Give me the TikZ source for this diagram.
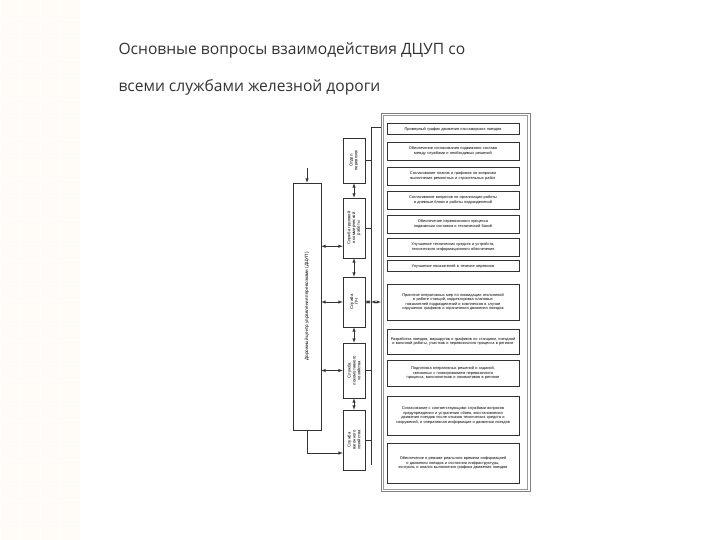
\documentclass[tikz,border=0pt]{standalone}
\usepackage{fontspec}
\setmainfont{Open Sans}
\newfontfamily\smallf{Liberation Sans}
\begin{document}
\begin{tikzpicture}[x=1pt,y=-1pt,
  rbox/.style={draw=black!80,line width=0.5pt,fill=white,align=center,font=\smallf\fontsize{3.9}{4.5}\selectfont,text width=130pt,inner sep=1pt},
  mbox/.style={draw=black!80,line width=0.5pt,fill=white,align=center,font=\smallf\fontsize{4.2}{4.8}\selectfont,inner sep=1pt},
  conn/.style={line width=0.5pt,black!80},
  arr/.style={conn,<->,>=latex}]
\useasboundingbox (0,0) rectangle (720,540);
\fill[white] (0,0) rectangle (720,540);
\fill[yellow!4!orange!3] (0,0) rectangle (80,540);
\foreach \i in {0,20,...,520} \draw[white,line width=1pt] (0,\i) -- (80,\i);
\foreach \i in {0,20,...,60} \draw[white,line width=1pt] (\i,0) -- (\i,540);
\node[anchor=west,font=\fontsize{15.6}{18}\selectfont,text=black!80] (t1) at (115,50) {Основные вопросы взаимодействия ДЦУП со};
\node[anchor=west,font=\fontsize{15.6}{18}\selectfont,text=black!80] (t2) at (115,87) {всеми службами железной дороги};
% frame
\node[draw=black!50,line width=0.6pt,minimum width=149pt,minimum height=378pt,anchor=north west] (frame) at (381,113) {};
\draw[black!40,line width=0.4pt] (383,115) rectangle (527,489);
% right boxes
\node[rbox,minimum height=11pt] (r1) at (453,129) {Примерный график движения пассажирских поездов};
\node[rbox,minimum height=18pt] (r2) at (453,151) {Обеспечение согласования подвижного состава между службами и необходимых решений};
\node[rbox,minimum height=18pt] (r3) at (453,176) {Согласование планов и графиков по вопросам выполнения ремонтных и строительных работ};
\node[rbox,minimum height=18pt] (r4) at (453,200) {Согласование вопросов по организации работы в дневные блоки и работы подразделений};
\node[rbox,minimum height=18pt] (r5) at (453,224) {Обеспечение перевозочного процесса подвижным составом и технической базой};
\node[rbox,minimum height=18pt] (r6) at (453,247) {Улучшение технических средств и устройств, технического информационного обеспечения};
\node[rbox,minimum height=11pt] (r7) at (453,266) {Улучшение показателей в течение перевозок};
\node[rbox,minimum height=36pt] (r8) at (453,302) {Принятие оперативных мер по ликвидации отклонений в работе станций, корректировка плановых показателей подразделений и комплексов в случае нарушения графиков и ограничения движения поездов};
\node[rbox,minimum height=25pt] (r9) at (453,341.5) {Разработка поездов, маршрутов и графиков по станциям, поездной и вагонной работы, участков и перевозочного процесса в регионе};
\node[rbox,minimum height=26pt] (r10) at (453,373) {Подготовка оперативных решений и заданий, связанных с планированием перевозочного процесса, вагонопотоков и локомотивов в регионе};
\node[rbox,minimum height=39pt] (r11) at (453,415.5) {Согласование с соответствующими службами вопросов предупреждения и устранения сбоев, восстановления движения поездов после отказов технических средств и сооружений, и оперативная информация о движении поездов};
\node[rbox,minimum height=40pt] (r12) at (453,463) {Обеспечение в режиме реального времени информацией о движении поездов и состоянии инфраструктуры, контроль и анализ выполнения графика движения поездов};
% middle boxes
\node[mbox,minimum width=22pt,minimum height=45pt] (m1) at (354,160.5) {};
\node[rotate=90,font=\smallf\fontsize{4.2}{4.8}\selectfont,align=center] at (m1) {Отдел\\перевозок};
\node[mbox,minimum width=22pt,minimum height=60pt] (m2) at (354,228) {};
\node[rotate=90,font=\smallf\fontsize{4.2}{4.8}\selectfont,align=center] at (m2) {Служба грузовой\\и коммерческой\\работы};
\node[mbox,minimum width=22pt,minimum height=50pt] (m3) at (354,302) {};
\node[rotate=90,font=\smallf\fontsize{4.2}{4.8}\selectfont,align=center] at (m3) {Служба\\ПЧ};
\node[mbox,minimum width=22pt,minimum height=55pt] (m4) at (354,370.5) {};
\node[rotate=90,font=\smallf\fontsize{4.2}{4.8}\selectfont,align=center] at (m4) {Служба\\локомотивного\\хозяйства};
\node[mbox,minimum width=22pt,minimum height=60pt] (m5) at (354,440) {};
\node[rotate=90,font=\smallf\fontsize{4.2}{4.8}\selectfont,align=center] at (m5) {Служба\\вагонного\\хозяйства};
% left box
\node[mbox,minimum width=28pt,minimum height=247pt] (L) at (307,306.5) {};
\node[rotate=90,font=\smallf\fontsize{4.6}{5}\selectfont] at (L) {Дорожный центр управления перевозками (ДЦУП)};
\coordinate (Ltop) at (307,168);
\draw[conn,->,>=latex] (Ltop) -- (L.north);
% vertical links middle
\draw[arr] (m1.south) -- (m2.north);
\draw[arr] (m2.south) -- (m3.north);
\draw[arr] (m3.south) -- (m4.north);
\draw[arr] (m4.south) -- (m5.north);
% left to middle
\draw[arr] (L.east |- m2.south west) ++(0,-12) coordinate (a1) -- (m2.west |- a1);
\draw[arr] (L.east |- m3) -- (m3.west);
\draw[arr] (L.east |- m4) -- (m4.west);
\coordinate (lb) at (307,453);
\draw[conn,->,>=latex] (L.south) -- (lb) -- (m5.west |- lb);
% bus on right
\coordinate (b1) at (371,127);
\coordinate (b2) at (371,465);
\draw[conn] (b1) -- (b2);
\draw[conn] (b1) -- (frame.west |- b1);
\draw[conn] (m1.east) -- (m1.east -| b1);
\draw[conn] (m2.east) -- (m2.east -| b1);
\draw[arr] (m3.east) -- (m3.east -| b1);
\draw[conn] (m4.east) -- (m4.east -| b1);
\draw[conn] (m5.east) -- (m5.east -| b1);
\draw[arr] (b1 |- m3) -- (frame.west |- m3);
\end{tikzpicture}
\end{document}
